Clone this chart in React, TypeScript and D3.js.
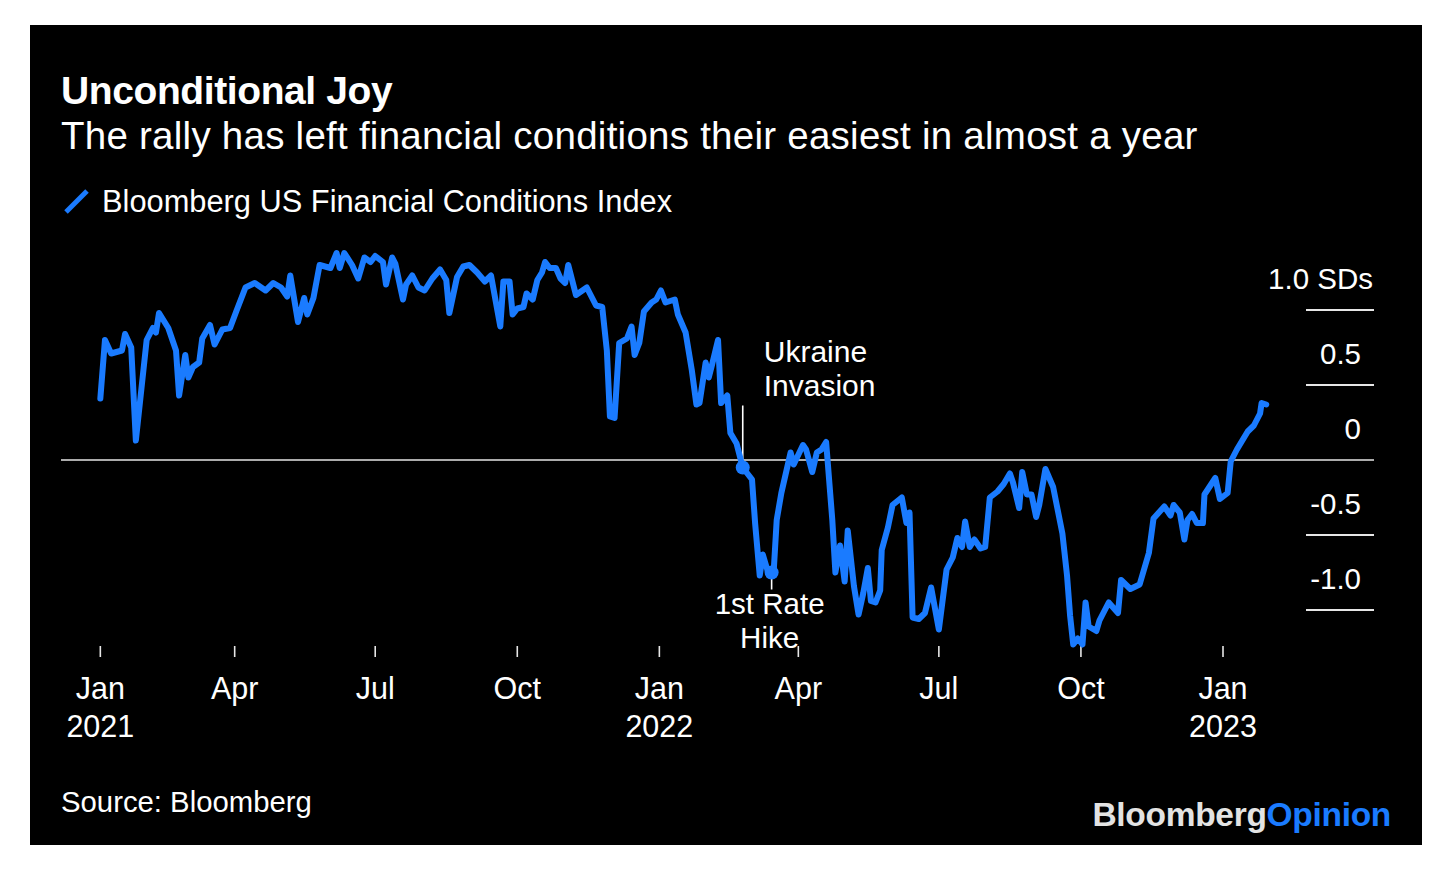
import React from "react";
import * as d3 from "d3";

// Bloomberg US Financial Conditions Index (SDs)
const fci: [string, number][] = [
  ["2021-01-04", 0.41], ["2021-01-07", 0.8], ["2021-01-11", 0.71], ["2021-01-18", 0.73], ["2021-01-20", 0.84],
  ["2021-01-24", 0.75], ["2021-01-27", 0.13], ["2021-02-03", 0.8], ["2021-02-07", 0.88], ["2021-02-09", 0.85],
  ["2021-02-11", 0.98], ["2021-02-17", 0.88], ["2021-02-22", 0.73], ["2021-02-24", 0.43], ["2021-02-28", 0.7],
  ["2021-03-02", 0.55], ["2021-03-05", 0.62], ["2021-03-09", 0.65], ["2021-03-11", 0.81], ["2021-03-16", 0.9],
  ["2021-03-19", 0.77], ["2021-03-24", 0.87], ["2021-03-29", 0.88], ["2021-04-02", 0.99], ["2021-04-08", 1.15],
  ["2021-04-14", 1.18], ["2021-04-21", 1.13], ["2021-04-26", 1.18], ["2021-05-01", 1.15], ["2021-05-05", 1.09],
  ["2021-05-07", 1.23], ["2021-05-12", 0.92], ["2021-05-16", 1.08], ["2021-05-18", 0.97], ["2021-05-22", 1.08],
  ["2021-05-26", 1.3], ["2021-06-02", 1.28], ["2021-06-06", 1.38], ["2021-06-08", 1.28], ["2021-06-11", 1.38],
  ["2021-06-16", 1.3], ["2021-06-20", 1.21], ["2021-06-24", 1.35], ["2021-06-28", 1.32], ["2021-07-01", 1.36],
  ["2021-07-06", 1.32], ["2021-07-08", 1.17], ["2021-07-12", 1.35], ["2021-07-14", 1.31], ["2021-07-19", 1.07],
  ["2021-07-21", 1.17], ["2021-07-25", 1.23], ["2021-07-29", 1.15], ["2021-08-02", 1.13], ["2021-08-07", 1.21],
  ["2021-08-12", 1.27], ["2021-08-16", 1.2], ["2021-08-18", 0.98], ["2021-08-23", 1.22], ["2021-08-27", 1.29],
  ["2021-08-31", 1.3], ["2021-09-05", 1.25], ["2021-09-10", 1.19], ["2021-09-14", 1.23], ["2021-09-20", 0.89],
  ["2021-09-22", 1.19], ["2021-09-26", 1.19], ["2021-09-28", 0.97], ["2021-10-01", 1.01], ["2021-10-05", 1.02],
  ["2021-10-07", 1.11], ["2021-10-11", 1.07], ["2021-10-14", 1.2], ["2021-10-17", 1.25], ["2021-10-19", 1.32],
  ["2021-10-22", 1.28], ["2021-10-26", 1.28], ["2021-10-29", 1.21], ["2021-11-01", 1.18], ["2021-11-03", 1.3],
  ["2021-11-08", 1.1], ["2021-11-15", 1.15], ["2021-11-21", 1.03], ["2021-11-25", 1.02], ["2021-11-28", 0.73],
  ["2021-11-30", 0.29], ["2021-12-03", 0.28], ["2021-12-06", 0.78], ["2021-12-11", 0.81], ["2021-12-14", 0.89],
  ["2021-12-16", 0.7], ["2021-12-19", 0.78], ["2021-12-22", 0.99], ["2021-12-27", 1.05], ["2021-12-30", 1.07],
  ["2022-01-02", 1.13], ["2022-01-05", 1.05], ["2022-01-11", 1.07], ["2022-01-13", 0.97], ["2022-01-18", 0.85],
  ["2022-01-22", 0.6], ["2022-01-25", 0.37], ["2022-01-27", 0.38], ["2022-01-31", 0.65], ["2022-02-02", 0.55],
  ["2022-02-04", 0.63], ["2022-02-08", 0.8], ["2022-02-10", 0.38], ["2022-02-14", 0.43], ["2022-02-16", 0.18],
  ["2022-02-20", 0.11], ["2022-02-24", -0.05], ["2022-03-02", -0.13], ["2022-03-04", -0.42], ["2022-03-07", -0.77],
  ["2022-03-09", -0.63], ["2022-03-13", -0.77], ["2022-03-16", -0.75], ["2022-03-18", -0.4], ["2022-03-21", -0.22],
  ["2022-03-27", 0.05], ["2022-03-29", -0.03], ["2022-04-04", 0.1], ["2022-04-06", 0.07], ["2022-04-10", -0.08],
  ["2022-04-13", 0.05], ["2022-04-16", 0.07], ["2022-04-19", 0.12], ["2022-04-23", -0.4], ["2022-04-25", -0.75],
  ["2022-04-28", -0.57], ["2022-05-01", -0.81], ["2022-05-03", -0.47], ["2022-05-07", -0.84], ["2022-05-10", -1.03],
  ["2022-05-13", -0.89], ["2022-05-16", -0.72], ["2022-05-18", -0.94], ["2022-05-21", -0.95], ["2022-05-24", -0.87],
  ["2022-05-25", -0.6], ["2022-05-29", -0.45], ["2022-06-01", -0.3], ["2022-06-07", -0.25], ["2022-06-10", -0.42],
  ["2022-06-12", -0.35], ["2022-06-14", -1.05], ["2022-06-18", -1.06], ["2022-06-22", -1.02], ["2022-06-26", -0.85],
  ["2022-07-01", -1.13], ["2022-07-06", -0.73], ["2022-07-10", -0.65], ["2022-07-13", -0.52], ["2022-07-16", -0.58],
  ["2022-07-18", -0.41], ["2022-07-21", -0.58], ["2022-07-24", -0.53], ["2022-07-28", -0.59], ["2022-07-31", -0.58],
  ["2022-08-03", -0.25], ["2022-08-08", -0.21], ["2022-08-12", -0.16], ["2022-08-16", -0.09], ["2022-08-18", -0.15],
  ["2022-08-22", -0.32], ["2022-08-24", -0.08], ["2022-08-27", -0.23], ["2022-08-30", -0.23], ["2022-09-02", -0.38],
  ["2022-09-04", -0.3], ["2022-09-08", -0.06], ["2022-09-13", -0.18], ["2022-09-19", -0.49], ["2022-09-22", -0.77],
  ["2022-09-24", -1.04], ["2022-09-26", -1.23], ["2022-09-29", -1.19], ["2022-10-02", -1.23], ["2022-10-04", -0.95],
  ["2022-10-06", -1.11], ["2022-10-11", -1.14], ["2022-10-13", -1.07], ["2022-10-19", -0.95], ["2022-10-25", -1.02],
  ["2022-10-27", -0.8], ["2022-11-02", -0.86], ["2022-11-08", -0.83], ["2022-11-14", -0.62], ["2022-11-17", -0.39],
  ["2022-11-24", -0.31], ["2022-11-28", -0.37], ["2022-11-30", -0.3], ["2022-12-04", -0.35], ["2022-12-07", -0.53],
  ["2022-12-09", -0.4], ["2022-12-12", -0.36], ["2022-12-15", -0.42], ["2022-12-19", -0.42], ["2022-12-20", -0.23],
  ["2022-12-27", -0.12], ["2022-12-30", -0.26], ["2023-01-04", -0.22], ["2023-01-06", -0.01], ["2023-01-10", 0.07],
  ["2023-01-17", 0.19], ["2023-01-21", 0.23], ["2023-01-25", 0.31], ["2023-01-26", 0.38], ["2023-01-29", 0.37],
];

const xTickDates = ["2021-01-04", "2021-04-01", "2021-07-01", "2021-10-01", "2022-01-01", "2022-04-01", "2022-07-01", "2022-10-01", "2023-01-01"];
const xTickMonths = ["Jan", "Apr", "Jul", "Oct", "Jan", "Apr", "Jul", "Oct", "Jan"];
const xTickYears = ["2021", "", "", "", "2022", "", "", "", "2023"];

const yTicks = [1.0, 0.5, 0, -0.5, -1.0];
const yTickLabels = ["1.0 SDs", "0.5", "0", "-0.5", "-1.0"];

const eventDates = ["2022-02-24", "2022-03-16"];
const eventLabels = [["Ukraine", "Invasion"], ["1st Rate", "Hike"]];

const title = "Unconditional Joy";
const subtitle = "The rally has left financial conditions their easiest in almost a year";
const legendLabel = "Bloomberg US Financial Conditions Index";
const source = "Source: Bloomberg";

const BLUE = "#1a7bff";
const FONT = "'Liberation Sans', Arial, Helvetica, sans-serif";

export default function App() {
  const parse = d3.utcParse("%Y-%m-%d");
  const data = fci.map(([d, v]) => ({ date: parse(d) as Date, value: v }));

  const x = d3
    .scaleUtc()
    .domain([parse("2021-01-01") as Date, parse("2023-01-01") as Date])
    .range([95.7, 1223]);
  const y = d3.scaleLinear().domain([0, 1]).range([460, 310]);

  const line = d3
    .line<{ date: Date; value: number }>()
    .x((d) => x(d.date))
    .y((d) => y(d.value))
    .curve(d3.curveLinear);

  const valueAt = (ds: string) => {
    const f = data.find((d) => d3.utcFormat("%Y-%m-%d")(d.date) === ds);
    return f ? f.value : 0;
  };

  const ev0x = x(parse(eventDates[0]) as Date);
  const ev0y = y(valueAt(eventDates[0]));
  const ev1x = x(parse(eventDates[1]) as Date);
  const ev1y = y(valueAt(eventDates[1]));

  return (
    <svg
      width={1456}
      height={870}
      style={{ position: "absolute", left: 0, top: 0, display: "block" }}
      fontFamily={FONT}
    >
      <rect x={0} y={0} width={1456} height={870} fill="#ffffff" />
      <rect x={30} y={25} width={1392} height={820} fill="#000000" />

      <text x={61} y={104} fill="#ffffff" fontSize={39} fontWeight="bold" letterSpacing={-0.4}>
        {title}
      </text>
      <text x={61} y={149} fill="#ffffff" fontSize={38.5} letterSpacing={0.25}>
        {subtitle}
      </text>

      <line x1={66} y1={212} x2={87} y2={191} stroke={BLUE} strokeWidth={5} />
      <text x={102} y={212} fill="#ffffff" fontSize={30.8}>
        {legendLabel}
      </text>

      {/* y gridlines & labels */}
      {yTicks.map((t, i) => (
        <g key={"y" + i}>
          <line
            x1={t === 0 ? 61 : 1306}
            x2={1374}
            y1={y(t)}
            y2={y(t)}
            stroke="#e6e6e6"
            strokeWidth={t === 0 ? 1.6 : 1.8}
          />
          <text
            x={i === 0 ? 1373 : 1361}
            y={y(t) - 21}
            fill="#ffffff"
            fontSize={29.5}
            textAnchor="end"
          >
            {yTickLabels[i]}
          </text>
        </g>
      ))}

      {/* x ticks */}
      {xTickDates.map((ds, i) => {
        const tx = x(parse(ds) as Date);
        return (
          <g key={"x" + i}>
            <line x1={tx} x2={tx} y1={646} y2={657} stroke="#e6e6e6" strokeWidth={1.6} />
            <text x={tx} y={699} fill="#ffffff" fontSize={30.5} textAnchor="middle">
              {xTickMonths[i]}
            </text>
            {xTickYears[i] && (
              <text x={tx} y={737} fill="#ffffff" fontSize={30.5} textAnchor="middle">
                {xTickYears[i]}
              </text>
            )}
          </g>
        );
      })}

      {/* annotation leader lines */}
      <line x1={ev0x} x2={ev0x} y1={ev0y - 62} y2={ev0y} stroke="#ffffff" strokeWidth={1.6} />
      <line x1={ev1x - 2} x2={ev1x - 2} y1={ev1y} y2={ev1y + 17} stroke="#ffffff" strokeWidth={1.6} />

      <path
        d={line(data) || ""}
        fill="none"
        stroke={BLUE}
        strokeWidth={6}
        strokeLinejoin="round"
        strokeLinecap="round"
      />

      <circle cx={ev0x} cy={ev0y} r={7} fill={BLUE} />
      <circle cx={ev1x - 2} cy={ev1y} r={7} fill={BLUE} />

      <text x={ev0x + 21} y={362} fill="#ffffff" fontSize={30}>
        <tspan x={ev0x + 21} dy={0}>{eventLabels[0][0]}</tspan>
        <tspan x={ev0x + 21} dy={34}>{eventLabels[0][1]}</tspan>
      </text>
      <text x={ev1x - 4} y={614} fill="#ffffff" fontSize={29.5} textAnchor="middle">
        <tspan x={ev1x - 4} dy={0}>{eventLabels[1][0]}</tspan>
        <tspan x={ev1x - 4} dy={34}>{eventLabels[1][1]}</tspan>
      </text>

      <text x={61} y={812} fill="#ffffff" fontSize={29.3}>
        {source}
      </text>
      <text x={1391} y={826} fontSize={33.5} fontWeight="bold" textAnchor="end" letterSpacing={-0.3}>
        <tspan fill="#e3e3e3">Bloomberg</tspan>
        <tspan fill={BLUE}>Opinion</tspan>
      </text>
    </svg>
  );
}
